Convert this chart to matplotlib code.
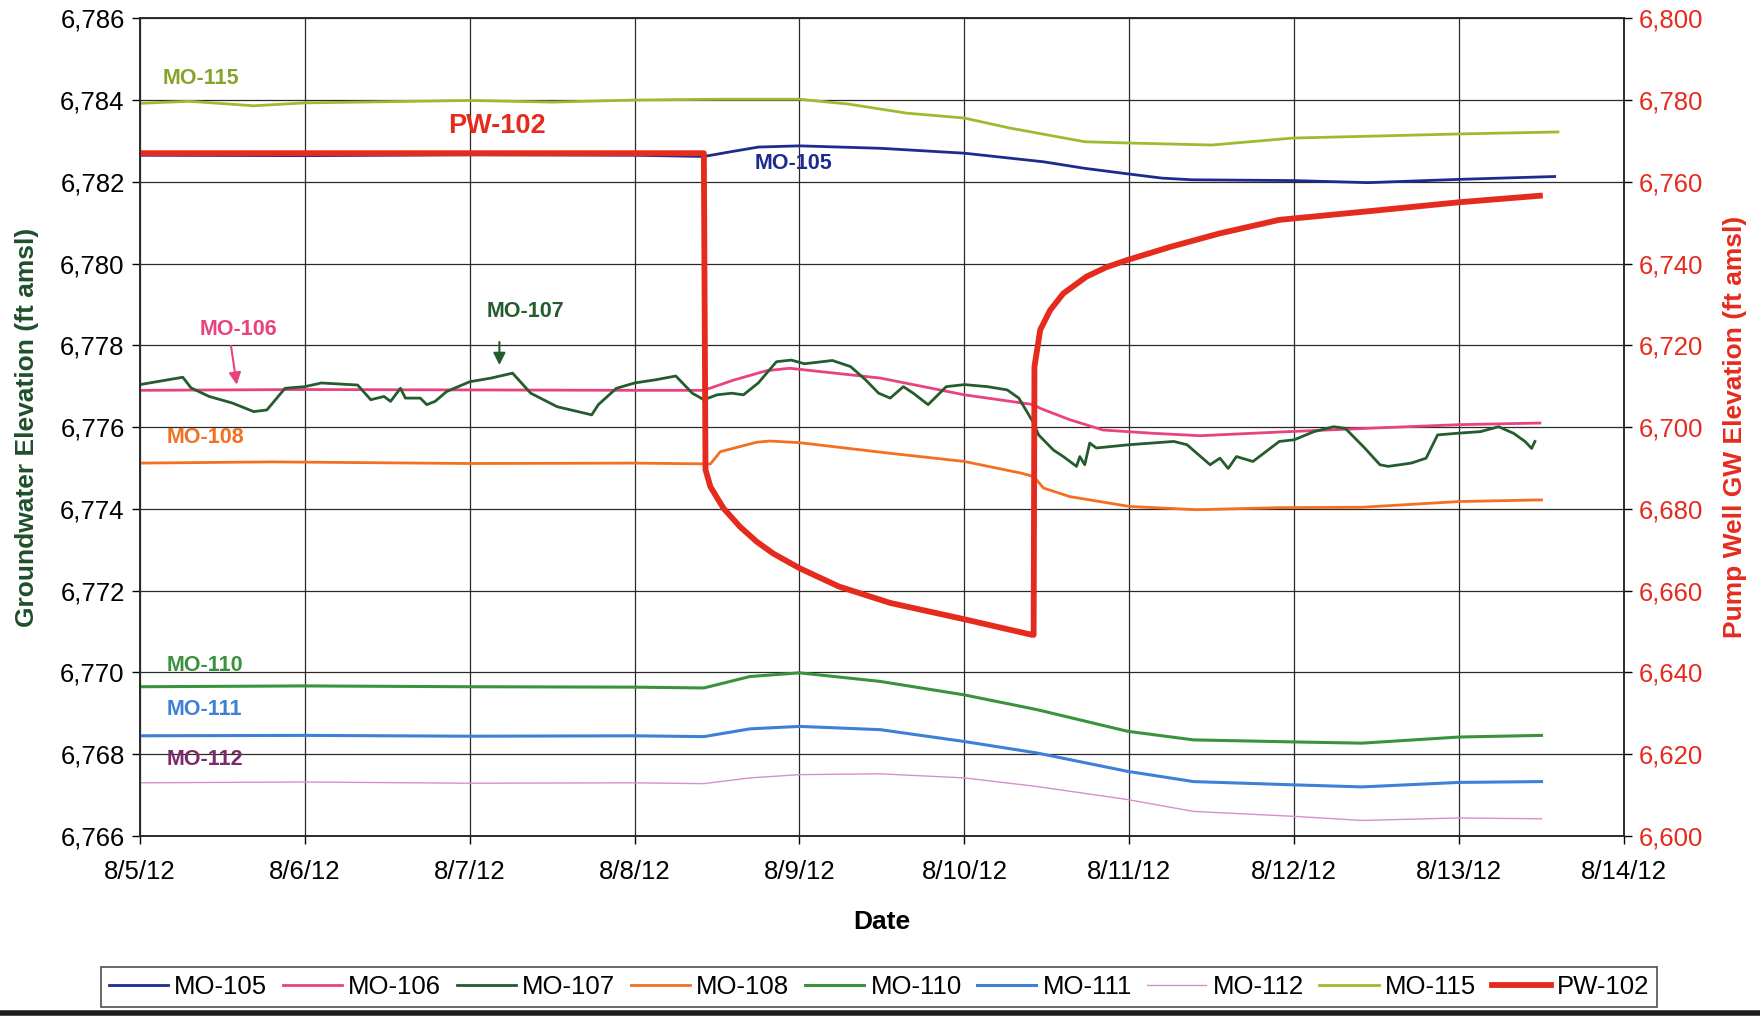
import matplotlib
matplotlib.use("Agg")

import matplotlib.pyplot as plt
import numpy as np
from matplotlib.lines import Line2D

plt.rcParams["font.family"] = ["Liberation Sans", "DejaVu Sans"]

# x values are days after 8/5/12 00:00
date_labels = ["8/5/12", "8/6/12", "8/7/12", "8/8/12", "8/9/12",
               "8/10/12", "8/11/12", "8/12/12", "8/13/12", "8/14/12"]

mo115_t = [0, 0.3, 0.69, 1.0, 1.5, 2.0, 2.5, 3.0, 3.5, 4.0, 4.3, 4.65, 5.0, 5.27, 5.5,
           5.73, 5.99, 6.5, 6.99, 7.5, 7.99, 8.6]
mo115_v = [6783.92, 6783.97, 6783.86, 6783.93, 6783.96, 6783.99, 6783.95, 6784.0, 6784.02,
           6784.02, 6783.9, 6783.68, 6783.56, 6783.32, 6783.15, 6782.98, 6782.95, 6782.9,
           6783.07, 6783.12, 6783.17, 6783.22]

mo105_t = [0, 1.0, 2.0, 3.0, 3.42, 3.59, 3.75, 4.0, 4.49, 5.0, 5.48, 5.73, 6.0, 6.2,
           6.38, 7.0, 7.45, 8.0, 8.58]
mo105_v = [6782.65, 6782.64, 6782.66, 6782.65, 6782.62, 6782.74, 6782.85, 6782.88, 6782.82,
           6782.70, 6782.49, 6782.33, 6782.19, 6782.09, 6782.05, 6782.03, 6781.98, 6782.06,
           6782.13]

pw102_t = [0, 3.42, 3.43, 3.46, 3.54, 3.64, 3.74, 3.84, 4.0, 4.24, 4.55, 5.0, 5.41,
           5.42, 5.425, 5.46, 5.52, 5.6, 5.74, 5.86, 5.99, 6.25, 6.55, 6.91, 7.5, 8.0, 8.49]
pw102_v = [6767.0, 6767.0, 6689.6, 6685.4, 6680.1, 6675.6, 6672.0, 6669.1, 6665.5, 6661.0,
           6657.0, 6653.0, 6649.2, 6649.2, 6714.8, 6723.8, 6728.6, 6732.7, 6736.8, 6739.1,
           6740.9, 6744.1, 6747.4, 6750.7, 6753.0, 6755.0, 6756.6]

mo106_t = [0, 1.0, 2.0, 3.0, 3.42, 3.6, 3.8, 3.94, 4.49, 5.0, 5.35, 5.42, 5.46, 5.64,
           5.84, 6.14, 6.43, 6.91, 7.5, 8.0, 8.49]
mo106_v = [6776.90, 6776.92, 6776.91, 6776.90, 6776.90, 6777.15, 6777.38, 6777.44, 6777.20,
           6776.79, 6776.59, 6776.55, 6776.46, 6776.18, 6775.93, 6775.85, 6775.79, 6775.88,
           6775.98, 6776.06, 6776.10]

mo108_t = [0, 0.8, 2.0, 3.0, 3.46, 3.52, 3.74, 3.82, 4.0, 4.55, 5.0, 5.35, 5.42, 5.48,
           5.64, 6.0, 6.41, 6.91, 7.41, 8.0, 8.5]
mo108_v = [6775.12, 6775.15, 6775.11, 6775.12, 6775.10, 6775.40, 6775.63, 6775.66, 6775.62,
           6775.36, 6775.16, 6774.87, 6774.79, 6774.51, 6774.30, 6774.06, 6773.98, 6774.03,
           6774.04, 6774.18, 6774.22]

mo110_t = [0, 1.0, 2.0, 3.0, 3.42, 3.7, 4.0, 4.49, 5.0, 5.44, 5.99, 6.39, 7.0, 7.41,
           8.0, 8.5]
mo110_v = [6769.65, 6769.67, 6769.65, 6769.64, 6769.62, 6769.90, 6769.99, 6769.78,
           6769.45, 6769.09, 6768.56, 6768.35, 6768.30, 6768.27, 6768.42, 6768.46]

mo111_t = [0, 1.0, 2.0, 3.0, 3.42, 3.7, 4.0, 4.49, 5.0, 5.44, 5.99, 6.39, 7.0, 7.41,
           8.0, 8.5]
mo111_v = [6768.45, 6768.46, 6768.44, 6768.45, 6768.43, 6768.62, 6768.68, 6768.60,
           6768.31, 6768.03, 6767.58, 6767.33, 6767.25, 6767.20, 6767.31, 6767.33]

mo112_t = [0, 1.0, 2.0, 3.0, 3.42, 3.7, 4.0, 4.49, 5.0, 5.44, 5.99, 6.39, 7.0, 7.41,
           8.0, 8.5]
mo112_v = [6767.30, 6767.32, 6767.29, 6767.30, 6767.28, 6767.42, 6767.50, 6767.52,
           6767.42, 6767.21, 6766.89, 6766.60, 6766.48, 6766.38, 6766.44, 6766.42]

mo107_t = [0, 0.26, 0.31, 0.42, 0.56, 0.69, 0.77, 0.88, 1.0, 1.1, 1.32, 1.4, 1.48, 1.52,
           1.58, 1.61, 1.7, 1.74, 1.79, 1.86, 2.0, 2.13, 2.26, 2.37, 2.53, 2.74, 2.78, 2.89,
           3.0, 3.13, 3.25, 3.35, 3.42, 3.5, 3.59, 3.66, 3.75, 3.86, 3.95, 4.03, 4.2, 4.31,
           4.4, 4.48, 4.55, 4.63, 4.69, 4.78, 4.89, 5.0, 5.14, 5.26, 5.33, 5.42, 5.45, 5.54,
           5.6, 5.68, 5.7, 5.73, 5.76, 5.8, 6.0, 6.27, 6.35, 6.49, 6.55, 6.6, 6.65, 6.75,
           6.91, 7.0, 7.12, 7.24, 7.31, 7.43, 7.52, 7.57, 7.71, 7.8, 7.87, 7.99, 8.13, 8.24,
           8.33, 8.4, 8.44, 8.46]
mo107_v = [6777.04, 6777.22, 6776.96, 6776.75, 6776.59, 6776.38, 6776.42, 6776.95, 6776.99,
           6777.08, 6777.03, 6776.67, 6776.75, 6776.63, 6776.95, 6776.71, 6776.71, 6776.55,
           6776.63, 6776.87, 6777.11, 6777.20, 6777.32, 6776.83, 6776.50, 6776.30, 6776.55,
           6776.95, 6777.08, 6777.16, 6777.25, 6776.83, 6776.67, 6776.79, 6776.83, 6776.79,
           6777.08, 6777.60, 6777.64, 6777.55, 6777.63, 6777.48, 6777.16, 6776.83, 6776.71,
           6776.99, 6776.83, 6776.55, 6776.99, 6777.04, 6776.99, 6776.91, 6776.71, 6776.10,
           6775.81, 6775.44, 6775.28, 6775.04, 6775.28, 6775.08, 6775.61, 6775.49, 6775.57,
           6775.65, 6775.57, 6775.08, 6775.24, 6774.99, 6775.28, 6775.16, 6775.65, 6775.69,
           6775.89, 6776.01, 6775.97, 6775.48, 6775.08, 6775.04, 6775.12, 6775.24, 6775.81,
           6775.85, 6775.89, 6776.01, 6775.85, 6775.65, 6775.48, 6775.65]

fig = plt.figure(figsize=(17.6, 10.16), dpi=100)
ax = fig.add_axes([0.0795, 0.1772, 0.8432, 0.8048])
ax2 = ax.twinx()

c105, c106, c107, c108 = "#1c2b8e", "#e8437f", "#245c2e", "#f36f21"
c110, c111, c112, c115 = "#3b923d", "#3d80d6", "#d690cf", "#9cbc30"
cpw = "#e52b1d"

lines = []
lines += ax.plot(mo105_t, mo105_v, color=c105, lw=2.0, label="MO-105")
lines += ax.plot(mo106_t, mo106_v, color=c106, lw=2.0, label="MO-106")
lines += ax.plot(mo107_t, mo107_v, color=c107, lw=2.0, label="MO-107")
lines += ax.plot(mo108_t, mo108_v, color=c108, lw=2.0, label="MO-108")
lines += ax.plot(mo110_t, mo110_v, color=c110, lw=2.2, label="MO-110")
lines += ax.plot(mo111_t, mo111_v, color=c111, lw=2.2, label="MO-111")
lines += ax.plot(mo112_t, mo112_v, color=c112, lw=1.0, label="MO-112")
lines += ax.plot(mo115_t, mo115_v, color=c115, lw=2.0, label="MO-115")
lines += ax2.plot(pw102_t, pw102_v, color=cpw, lw=4.2, label="PW-102",
                  solid_joinstyle="round")

ax.set_xlim(0, 9)
ax.set_ylim(6766, 6786)
ax2.set_ylim(6600, 6800)
ax.set_xticks(np.arange(len(date_labels)))
ax.set_xticklabels(date_labels)
ax.set_yticks(np.arange(6766, 6787, 2))
ax.set_yticklabels([f"{v:,}" for v in range(6766, 6787, 2)])
ax2.set_yticks(np.arange(6600, 6801, 20))
ax2.set_yticklabels([f"{v:,}" for v in range(6600, 6801, 20)])

ax.grid(True, color="#2a2a2a", lw=0.9)
ax.set_axisbelow(True)
for a in (ax, ax2):
    for s in a.spines.values():
        s.set_color("#2a2a2a")
        s.set_linewidth(1.2)

ax.tick_params(axis="both", direction="out", length=6, width=1, labelsize=18.5, pad=5)
ax.tick_params(axis="x", pad=11)
ax2.tick_params(axis="y", direction="out", length=6, width=1, labelsize=18.5,
                labelcolor=cpw, pad=5)

ax.set_xlabel("Date", fontsize=19, fontweight="bold", labelpad=19)
ax.set_ylabel("Groundwater Elevation (ft amsl)", fontsize=19, fontweight="bold",
              color="#1f4f2a", labelpad=15)
ax2.set_ylabel("Pump Well GW Elevation (ft amsl)", fontsize=19, fontweight="bold",
               color=cpw, labelpad=14)

# in-plot series labels
lab = dict(fontsize=15.5, fontweight="bold", va="center", ha="left")
ax.text(0.14, 6784.52, "MO-115", color="#86a32b", **lab)
ax.text(1.87, 6783.36, "PW-102", color=cpw, fontsize=19.5, fontweight="bold",
        va="center", ha="left")
ax.text(3.73, 6782.44, "MO-105", color=c105, **lab)
ax.text(0.36, 6778.40, "MO-106", color=c106, **lab)
ax.text(2.1, 6778.84, "MO-107", color=c107, **lab)
ax.text(0.16, 6775.74, "MO-108", color=c108, **lab)
ax.text(0.16, 6770.17, "MO-110", color=c110, **lab)
ax.text(0.16, 6769.09, "MO-111", color=c111, **lab)
ax.text(0.16, 6767.87, "MO-112", color="#7b2a6b", **lab)

ax.annotate("", xy=(0.59, 6776.97), xytext=(0.55, 6778.05),
            arrowprops=dict(arrowstyle="-|>", color=c106, lw=1.5, mutation_scale=18))
ax.annotate("", xy=(2.18, 6777.45), xytext=(2.18, 6778.15),
            arrowprops=dict(arrowstyle="-|>", color=c107, lw=1.5, mutation_scale=18))

leg = fig.legend(handles=lines, loc="center", bbox_to_anchor=(0.4995, 0.0285), ncol=9,
                 fontsize=18.5, frameon=True, fancybox=False, edgecolor="#222222",
                 handlelength=2.3, handletextpad=0.25, columnspacing=0.6,
                 borderpad=0.3)
leg.get_frame().set_linewidth(1.2)

# dark edge along the bottom of the sheet
fig.add_artist(Line2D([0, 1], [0.0025, 0.0025], transform=fig.transFigure,
                      color="#1e1e1e", lw=4))

fig.savefig("out.png", dpi=100)
